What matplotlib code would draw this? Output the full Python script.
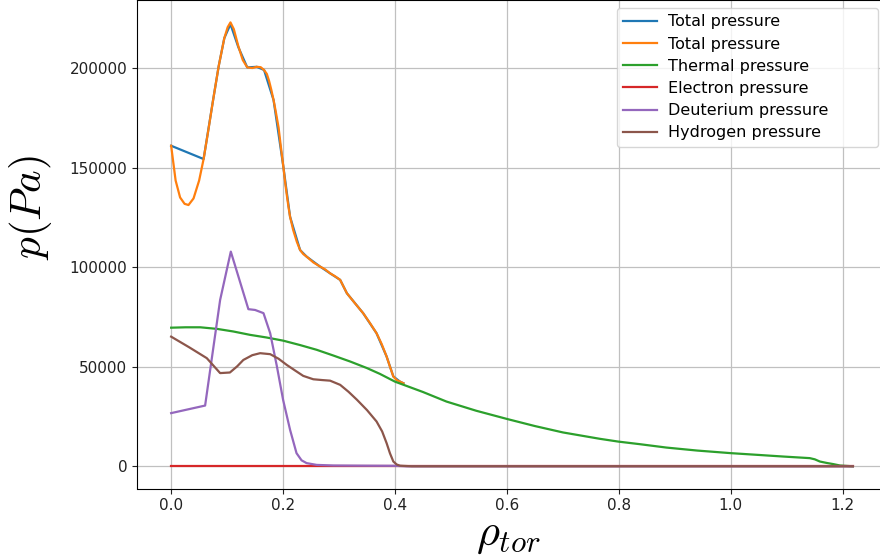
import matplotlib
matplotlib.use("Agg")
import matplotlib.pyplot as plt

plt.rcParams["mathtext.fontset"] = "cm"

# Radial coordinate samples (rho_tor) and pressure profiles in Pa
rho_total_raw = [0.0, 0.058, 0.075, 0.085, 0.095, 0.106, 0.120, 0.136, 0.153, 0.166,
                 0.183, 0.2005, 0.2125, 0.2304, 0.242, 0.266, 0.284, 0.302, 0.314,
                 0.343, 0.367, 0.385, 0.397, 0.409, 0.415]
p_total_raw = [160960, 154290, 184000, 201000, 215000, 222000, 210500, 200300, 200600,
               199000, 183900, 150400, 125300, 108600, 105300, 100300, 96900, 93600,
               86900, 76900, 66800, 55100, 45100, 42500, 41700]

rho_total = [0.0, 0.008, 0.016, 0.024, 0.031, 0.040, 0.050, 0.058, 0.066, 0.075,
             0.085, 0.095, 0.101, 0.106, 0.112, 0.120, 0.128, 0.136, 0.145, 0.153,
             0.160, 0.166, 0.171, 0.175, 0.179, 0.183, 0.187, 0.192, 0.196, 0.2005,
             0.2035, 0.2065, 0.2095, 0.2125, 0.218, 0.2245, 0.2304, 0.236, 0.242,
             0.254, 0.266, 0.275, 0.284, 0.293, 0.302, 0.314, 0.328, 0.343, 0.355,
             0.367, 0.376, 0.385, 0.391, 0.397, 0.403, 0.409, 0.415]
p_total = [160960, 143500, 135000, 131800, 131200, 134500, 143500, 154290, 168000,
           184000, 201000, 215000, 220500, 222900, 219500, 211000, 204000, 200300,
           200000, 200600, 200400, 199000, 197000, 193500, 189000, 183900, 178000,
           170000, 160500, 150400, 143000, 136500, 130500, 125300, 118700, 112800,
           108600, 106600, 105300, 102400, 100300, 98900, 96900, 95400, 93600,
           86900, 82000, 76900, 72000, 66800, 61500, 55100, 50000, 45100, 43300,
           42500, 41700]

rho_thermal = [0.0, 0.026, 0.052, 0.082, 0.111, 0.141, 0.170, 0.200, 0.230, 0.260,
               0.290, 0.320, 0.350, 0.373, 0.400, 0.450, 0.492, 0.545, 0.601,
               0.650, 0.700, 0.766, 0.799, 0.8375, 0.885, 0.940, 1.000, 1.050,
               1.0935, 1.141, 1.150, 1.159, 1.171, 1.183, 1.195, 1.218]
p_thermal = [69600, 69800, 69800, 69000, 67700, 66000, 64700, 63100, 60900, 58500,
             55600, 52600, 49300, 46400, 42500, 37300, 32500, 27900, 23700,
             20200, 17000, 13800, 12400, 11100, 9400, 7900, 6600, 5700,
             4900, 4100, 3500, 2400, 1700, 1100, 400, 0]

rho_electron = [0.0, 1.218]
p_electron = [0, 0]

rho_deut = [0.0, 0.0607, 0.0875, 0.1066, 0.138, 0.150, 0.165, 0.177, 0.189, 0.200,
            0.2125, 0.224, 0.233, 0.242, 0.260, 0.290, 0.350, 0.400, 0.420, 1.218]
p_deut = [26700, 30500, 83500, 107800, 78900, 78500, 76900, 66800, 50100, 33400,
          18300, 6600, 3000, 1600, 700, 400, 300, 250, 0, 0]

rho_hydro = [0.0, 0.032, 0.0637, 0.0875, 0.105, 0.118, 0.129, 0.145, 0.159, 0.177,
             0.192, 0.2066, 0.222, 0.236, 0.254, 0.270, 0.284, 0.302, 0.317,
             0.332, 0.350, 0.367, 0.377, 0.385, 0.391, 0.397, 0.403, 0.409,
             0.430, 1.218]
p_hydro = [65100, 59800, 54300, 46800, 47100, 50200, 53400, 55800, 56800, 56300,
           54000, 50900, 48000, 45400, 43700, 43300, 43000, 40900, 37400,
           33400, 28200, 22500, 17500, 11600, 6500, 2400, 900, 300, 0, 0]

labels = ["Total pressure", "Total pressure", "Thermal pressure",
          "Electron pressure", "Deuterium pressure", "Hydrogen pressure"]
colors = ["#1f77b4", "#ff7f0e", "#2ca02c", "#d62728", "#9467bd", "#8c564b"]

fig = plt.figure(figsize=(8.8, 5.58), dpi=100)
ax = fig.add_axes([137 / 880, 1 - 488.5 / 558, 750 / 880, 488.5 / 558])

series = [(rho_total_raw, p_total_raw), (rho_total, p_total),
          (rho_thermal, p_thermal), (rho_electron, p_electron),
          (rho_deut, p_deut), (rho_hydro, p_hydro)]
for (xs, ys), lab, col in zip(series, labels, colors):
    ax.plot(xs, ys, color=col, lw=1.6, label=lab)

ax.set_xlim(-0.061, 1.279)
ax.set_ylim(-11150, 234150)
ax.set_xticks([0.0, 0.2, 0.4, 0.6, 0.8, 1.0, 1.2])
ax.set_yticks([0, 50000, 100000, 150000, 200000])
ax.tick_params(labelsize=11, colors="#222222", labelcolor="#222222")
ax.grid(True, color="#c0c0c0", lw=0.9)

ax.set_xlabel(r"$\rho_{tor}$", fontsize=32)
ax.xaxis.set_label_coords(0.495, -0.05)
ax.set_ylabel(r"$p(Pa)$", fontsize=31)
ax.yaxis.set_label_coords(-0.11, 0.574)

ax.legend(loc="upper left", bbox_to_anchor=(0.64, 0.0, 0.348, 0.9836),
          mode="expand", borderaxespad=0.0, fontsize=11.5, handlelength=2.1,
          labelspacing=0.45, handletextpad=0.7)

fig.savefig("out.png", dpi=100)
